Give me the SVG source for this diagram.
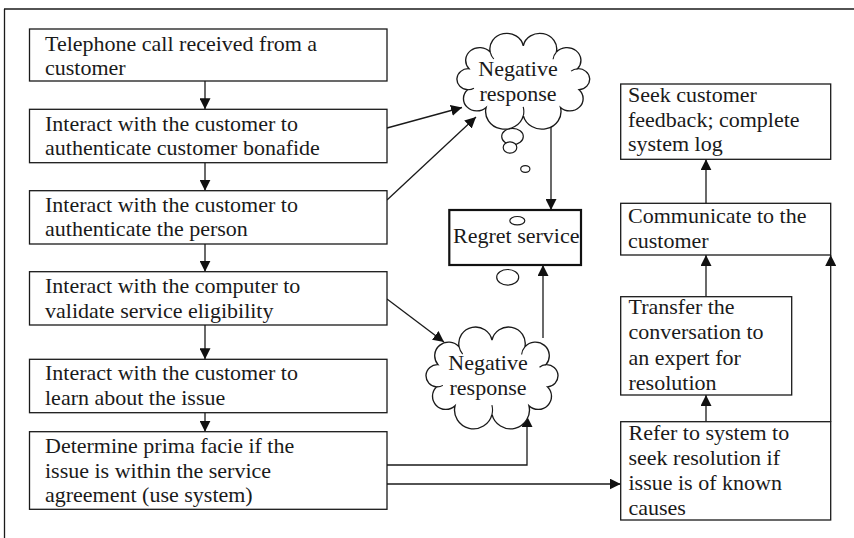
<svg xmlns="http://www.w3.org/2000/svg" width="854" height="538" viewBox="0 0 854 538">
  <defs>
    <style>
      .box { fill: #fff; stroke: #1a1a1a; stroke-width: 1.3; }
      .box-strong { fill: #fff; stroke: #111; stroke-width: 2.2; }
      .cloud { fill: #fff; stroke: #1a1a1a; stroke-width: 1.3; vector-effect: non-scaling-stroke; }
      .curl { fill: none; stroke: #1a1a1a; stroke-width: 1.1; vector-effect: non-scaling-stroke; }
      .bubble { fill: #fff; stroke: #1a1a1a; stroke-width: 1.2; }
      .link { fill: none; stroke: #1a1a1a; stroke-width: 1.3; marker-end: url(#head); }
      .plain { fill: none; stroke: #1a1a1a; stroke-width: 1.3; }
      text { font-family: "Liberation Serif", "Times New Roman", serif; font-size: 22px; fill: #1a1a1a; }
      .mid { text-anchor: middle; }
    </style>
    <marker id="head" viewBox="0 0 11 11" refX="11" refY="5.5" markerWidth="11" markerHeight="11" markerUnits="userSpaceOnUse" orient="auto">
      <path d="M0,0 L11,5.5 L0,11 Z" fill="#111"/>
    </marker>
    <!-- cloud outline around the origin: ten outward bumps on an ellipse -->
    <path id="cloudShape" d="M-51.7,-12.3 A13.2,13.2 0 0 1 -31.5,-29.5 A16,16 0 0 1 0,-36 A16,16 0 0 1 31.5,-29.5 A13.2,13.2 0 0 1 51.7,-12.3 A10.7,10.7 0 0 1 53.1,9.3 A12.7,12.7 0 0 1 35.4,27.6 A18.1,18.1 0 0 1 0,36 A18.1,18.1 0 0 1 -35.4,27.6 A12.7,12.7 0 0 1 -53.1,9.3 A10.7,10.7 0 0 1 -51.7,-12.3 Z"/>
    <!-- short inner arcs that continue some bumps into the cloud -->
    <path id="cloudCurls" d="M-53.1,9.3 A10.8,10.8 0 0 0 -47,7.85 M51.7,-12.3 A10.8,10.8 0 0 0 45.5,-9.8 M31.5,-29.5 A13.3,13.3 0 0 0 28.35,-22.1 M0,36 A18.2,18.2 0 0 0 -0.1,27.1 M-31.5,-29.5 A16.1,16.1 0 0 0 -28.1,-22.4"/>
  </defs>

  <rect width="854" height="538" fill="#fff"/>

  <!-- frame -->
  <path class="plain" d="M4.5,538 V9" stroke-width="1.2"/>
  <path class="plain" d="M4,9 H854" stroke-width="2.2" stroke="#333"/>

  <!-- connectors -->
  <g id="connectors">
    <path class="link" d="M205,81 V109.3"/>
    <path class="link" d="M205,162.7 V190.7"/>
    <path class="link" d="M205,244 V271.7"/>
    <path class="link" d="M205,325 V359.3"/>
    <path class="link" d="M205,412.7 V431.7"/>
    <path class="link" d="M387,128 L462,107.5"/>
    <path class="link" d="M387,200 L476,117"/>
    <path class="link" d="M387,299 L444,342"/>
    <path class="link" d="M551,118 V210"/>
    <path class="link" d="M543,338 V265"/>
    <path class="link" d="M387,465 H527 V416"/>
    <path class="link" d="M387,484 H620.7"/>
    <path class="link" d="M706,421.7 V395"/>
    <path class="link" d="M706,296.7 V255"/>
    <path class="link" d="M830.7,421.7 V255"/>
    <path class="link" d="M706,203.3 V159.3"/>
  </g>

  <!-- left column -->
  <g id="n-call">
    <rect class="box" x="29.5" y="29" width="357.5" height="52"/>
    <text x="45" y="50.7">Telephone call received from a</text>
    <text x="45" y="74.5">customer</text>
  </g>
  <g id="n-auth-customer">
    <rect class="box" x="29.5" y="109.3" width="357.5" height="53.4"/>
    <text x="45" y="130.5">Interact with the customer to</text>
    <text x="45" y="155.3">authenticate customer bonafide</text>
  </g>
  <g id="n-auth-person">
    <rect class="box" x="29.5" y="190.7" width="357.5" height="53.3"/>
    <text x="45" y="211.5">Interact with the customer to</text>
    <text x="45" y="236.3">authenticate the person</text>
  </g>
  <g id="n-eligibility">
    <rect class="box" x="29.5" y="271.7" width="357.5" height="53.3"/>
    <text x="45" y="292.7">Interact with the computer to</text>
    <text x="45" y="317.7">validate service eligibility</text>
  </g>
  <g id="n-issue">
    <rect class="box" x="29.5" y="359.3" width="357.5" height="53.4"/>
    <text x="45" y="380.3">Interact with the customer to</text>
    <text x="45" y="405.2">learn about the issue</text>
  </g>
  <g id="n-prima-facie">
    <rect class="box" x="29.5" y="431.7" width="357.5" height="77.6"/>
    <text x="45" y="452.5">Determine prima facie if the</text>
    <text x="45" y="477.5">issue is within the service</text>
    <text x="45" y="502.3">agreement (use system)</text>
  </g>

  <!-- upper negative response -->
  <g id="n-negative-1">
    <ellipse class="bubble" cx="512.5" cy="136.5" rx="10.8" ry="8.2"/>
    <ellipse class="bubble" cx="510" cy="147.5" rx="6.8" ry="5.6"/>
    <ellipse class="bubble" cx="525.3" cy="169" rx="4.6" ry="3.4"/>
    <g transform="translate(523.3,80.7) scale(1.05,0.97)">
      <use href="#cloudShape" class="cloud"/>
      <use href="#cloudCurls" class="curl"/>
    </g>
    <text class="mid" x="518" y="76">Negative</text>
    <text class="mid" x="518" y="101">response</text>
  </g>

  <!-- regret service -->
  <g id="n-regret">
    <rect class="box-strong" x="449.3" y="210" width="131.7" height="55"/>
    <text x="453" y="243.3">Regret service</text>
    <ellipse class="bubble" cx="517.3" cy="220.7" rx="7.5" ry="4.2"/>
    <ellipse class="bubble" cx="507.7" cy="277.3" rx="11" ry="7.8"/>
  </g>

  <!-- lower negative response -->
  <g id="n-negative-2">
    <g transform="translate(492,377.3) scale(1.044,1.03)">
      <use href="#cloudShape" class="cloud"/>
      <use href="#cloudCurls" class="curl"/>
    </g>
    <text class="mid" x="488" y="370">Negative</text>
    <text class="mid" x="488" y="395">response</text>
  </g>

  <!-- right column -->
  <g id="n-feedback">
    <rect class="box" x="620.7" y="84" width="210" height="75.3"/>
    <text x="628" y="102.3">Seek customer</text>
    <text x="628" y="126.7">feedback; complete</text>
    <text x="628" y="151">system log</text>
  </g>
  <g id="n-communicate">
    <rect class="box" x="620.7" y="203.3" width="210" height="51.7"/>
    <text x="628" y="223.3">Communicate to the</text>
    <text x="628" y="248.3">customer</text>
  </g>
  <g id="n-transfer">
    <rect class="box" x="620.7" y="296.7" width="171" height="98.3"/>
    <text x="628.5" y="313.5">Transfer the</text>
    <text x="628.5" y="339.2">conversation to</text>
    <text x="628.5" y="364.8">an expert for</text>
    <text x="628.5" y="390.2">resolution</text>
  </g>
  <g id="n-refer">
    <rect class="box" x="620.7" y="421.7" width="210" height="98.3"/>
    <text x="628.5" y="440">Refer to system to</text>
    <text x="628.5" y="465">seek resolution if</text>
    <text x="628.5" y="490">issue is of known</text>
    <text x="628.5" y="515">causes</text>
  </g>
</svg>
